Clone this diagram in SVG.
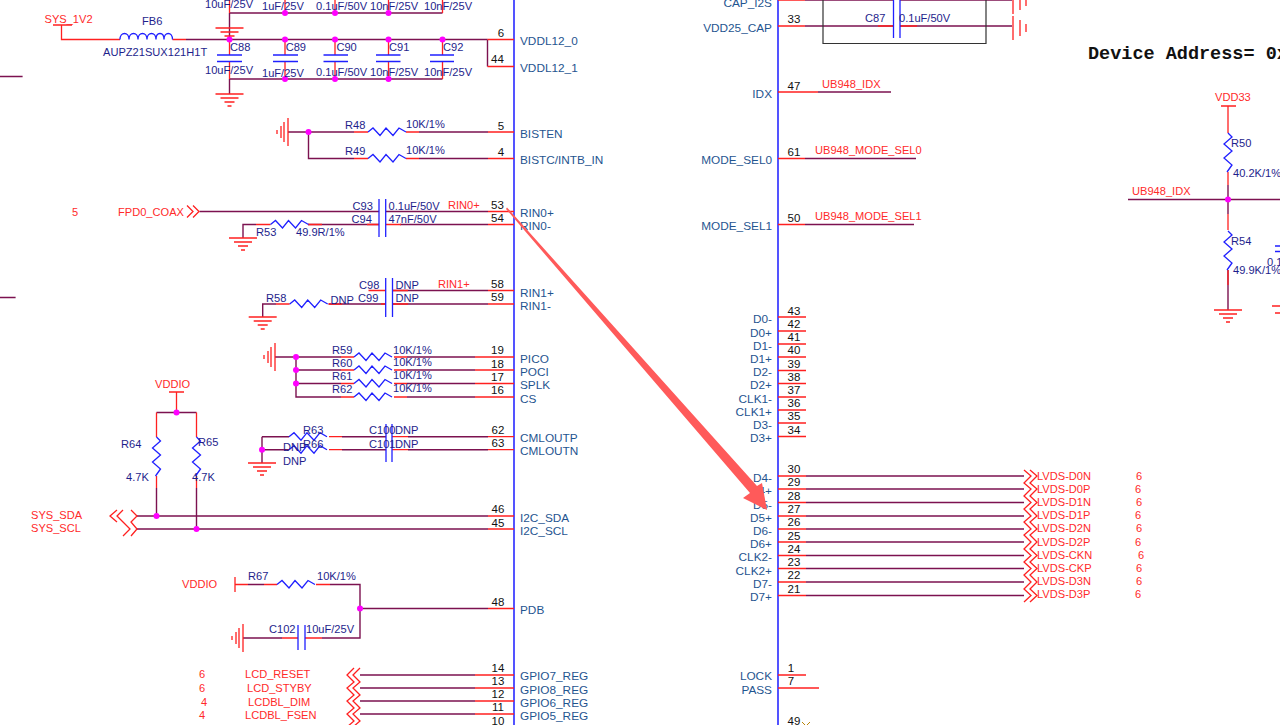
<svg xmlns="http://www.w3.org/2000/svg" width="1280" height="725" viewBox="0 0 1280 725">
<style>
text{font-family:"Liberation Sans",Arial,sans-serif;font-size:11.1px}
.c{fill:#1e1e8c}.n{fill:#ff2a2a}.p{fill:#1f5590;font-size:11.8px}.k{fill:#111;font-size:11.5px;text-anchor:middle}
.e{text-anchor:end}
.w{stroke:#7c1250;stroke-width:1.4;fill:none}
.r{stroke:#ff2020;stroke-width:1.3;fill:none}
.b{stroke:#2020ff;stroke-width:1.3;fill:none}
.bus{stroke:#2a2aff;stroke-width:1.6;fill:none}
.d{fill:#ff00ff}
</style>
<defs>
<path id="rh" class="b" d="M0 0L5-4 12 3.5 18-4 25 3.5 31-4 38 0"/>
<path id="rv" class="b" d="M0 0L4 4-4 11 4 18-4 25 4 32-1 39"/>
<g id="gd" class="r"><path d="M-14 0H14M-9 4H9M-5 8H5M-2 12H2"/></g>
<g id="gl" class="r"><path d="M0-14V14M-4-10V10M-7-6V6M-11-2V2"/></g>
<path id="chr" class="r" d="M0-6L6 0 0 6M6-6L12 0 6 6"/>
<circle id="dot" class="d" r="3"/>
</defs>
<g id="connectors">
<path class="bus" d="M514 0V725M778 0V725"/>
<!-- VDDL -->
<path class="r" d="M53 25H72M61.500 25V39.500H120M172.500 39.500H186"/>
<path class="w" d="M186 39.500H487.500M487.500 39.500V66.500M229.500 13H442.500M229.500 79H442.500M229.500 79V94M229.500 13V39.500"/>
<path class="r" d="M487.500 39.500H514M487.500 66.500H514"/>
<path class="b" d="M120 39.500c0-8 9-8 9 0c0-8 9-8 9 0c0-8 9-8 9 0c0-8 9-8 9 0c0-8 8-8 8 0c0-8 8.500-8 8.500 0"/>
<path class="r" d="M229.500 39.500V55M285 39.500V55M335 39.500V55M388.500 39.500V55M442.500 39.500V55M229.500 62V79M285 62V79M335 62V79M388.500 62V79M442.500 62V79M229.500 0V13M285 0V13M335 0V13M388.500 0V13M442.500 0V13"/>
<path class="b" d="M217 55H242M217 61.500H242M273 55H298M273 61.500H298M323.500 55H348M323.500 61.500H348M376 55H400.500M376 61.500H400.500M430 55H454M430 61.500H454"/>
<!-- BIST -->
<path class="w" d="M288 132H354M308.500 132V158.500H354M419 132H488M419 158.500H488"/>
<path class="r" d="M354 132H368M354 158.500H368M406 132H419M406 158.500H419M488 132H514M488 158.500H514"/>
<use href="#rh" x="368" y="132"/><use href="#rh" x="368" y="158.500"/>
<!-- RIN0 -->
<path class="w" d="M199.500 211.500H379M386 211.500H488M243 238V224.500H256M308 224.500H379M400 224.500H488"/>
<path class="r" d="M256 224.500H270.500M308 224.500H322M367 224.500H379M386 224.500H401M488 211.500H514M488 224.500H514"/>
<use href="#rh" x="270.500" y="224.500"/>
<path class="b" d="M379 199V237M385.700 199V237"/>
<!-- RIN1 -->
<path class="w" d="M262.700 317V304H276M328.600 304H386M392.500 304H488M392.500 290.500H488"/>
<path class="r" d="M276 304H289.700M328.600 304H342M368.500 290.500H386M381 304H386M392.500 290.500H408M392.500 304H408M488 290.500H514M488 304H514"/>
<use href="#rh" x="289.700" y="304"/>
<path class="b" d="M385.700 278V317M392.500 278V317"/>
<!-- SPI -->
<path class="w" d="M275 357H341M296 357V397H341M296 370H341M296 383.500H341M407 357H475M407 370H475M407 383.500H475M407 397H475"/>
<path class="r" d="M341 357H354M341 370H354M341 383.500H354M341 397H354M394 357H407M394 370H407M394 383.500H407M394 397H407M475 357H514M475 370H514M475 383.500H514M475 397H514"/>
<use href="#rh" x="354" y="357"/><use href="#rh" x="354" y="370"/><use href="#rh" x="354" y="383.500"/><use href="#rh" x="354" y="397"/>
<!-- CML -->
<path class="w" d="M262 436.700H289M262 449.700H289M262 436.700V463M342 436.700H386M342 449.700H386M408 436.700H488M408 449.700H488"/>
<path class="r" d="M329 436.700H342M329 449.700H342M392 436.700H408M392 449.700H408M488 436.700H514M488 449.700H514"/>
<use href="#rh" x="289" y="436.700"/><use href="#rh" x="289" y="449.700"/>
<path class="b" d="M386 424V462M392 424V462"/>
<!-- I2C -->
<path class="w" d="M156.500 412.500H196.500M137 516H488M137 529H488M156.500 488V516M196.500 488V529"/>
<path class="r" d="M176.500 392V412.500M169 392H184M156.500 412.500V437M196.500 412.500V437M156.500 476V488M196.500 476V488M488 516H514M488 529H514"/>
<use href="#rv" x="156.500" y="437"/><use href="#rv" x="196.500" y="437"/>
<path class="r" d="M117 510L110 516 117 522M123 510L117 516 123 522 130 529 123 536M131 510L137 516 131 522 137 529 131 536"/>
<!-- PDB -->
<path class="r" d="M235 577V592M235 584.500H248M264 584.500H277M316 584.500H330M282 638H298M305 638H322M488 608.500H514"/>
<path class="w" d="M248 584.500H264M330 584.500H360V638H322M360 608.500H488M243 638H282"/>
<use href="#rh" x="277" y="584.500"/>
<path class="b" d="M298 625V650M305 625V650"/>
<!-- GPIO -->
<path class="w" d="M360 675H475M360 688H475M360 701H475M360 714H475"/>
<path class="r" d="M475 675H514M475 688H514M475 701H514M475 714H514"/>
<path class="r" d="M360 668L353 675 360 682 353 688 360 695 353 701 360 708 353 714 360 721 353 727M354 668L347 675 354 682 347 688 354 695 347 701 354 708 347 714 354 721 347 727"/>
<!-- right pins -->
<path class="w" d="M805 0H893M900 0H1012M805 26H893M900 26H1012M818 92H891M805 158.500H916M805 224.500H914M1128 199.500H1280M0 76.500H22.600M0 297.500H15.600"/>
<path class="r" d="M778 0H805M778 26H805M778 92H818M778 158.500H805M778 224.500H805M878 26H893M900 26H917"/>
<path class="b" d="M893.500 0V38M900 0V38"/>
<path d="M823 0V43.500H986V0" fill="none" stroke="#333" stroke-width="1.2"/>
<path class="r" d="M1013 16V40M1020 20V36M1026 24V32M1013-10V14M1020-6V10M1026-2V6"/>
<path class="r" d="M778 317H806M778 331H806M778 344H806M778 357H806M778 370.500H806M778 383.500H806M778 397H806M778 410H806M778 423H806M778 436.500H806M778 675H806M778 688H819"/>
<path class="w" d="M806 476H1024M806 489H1024M806 502.500H1024M806 516H1024M806 529H1024M806 542H1024M806 555.500H1024M806 568.500H1024M806 582H1024M806 595.500H1024"/>
<path class="r" d="M778 476H806M778 489H806M778 502.500H806M778 516H806M778 529H806M778 542H806M778 555.500H806M778 568.500H806M778 582H806M778 595.500H806"/>
<path class="r" d="M1024 470L1031 476 1024 483 1031 489 1024 496 1031 502.500 1024 509 1031 516 1024 522 1031 529 1024 535 1031 542 1024 549 1031 555.500 1024 562 1031 568.500 1024 575 1031 582 1024 589 1031 595.500 1024 602M1030 470L1037 476 1030 483 1037 489 1030 496 1037 502.500 1030 509 1037 516 1030 522 1037 529 1030 535 1037 542 1030 549 1037 555.500 1030 562 1037 568.500 1030 575 1037 582 1030 589 1037 595.500 1030 602"/>
<!-- idx divider -->
<path class="r" d="M1221 106H1236M1228 106V133M1228 172V185M1228 214V230"/>
<path class="w" d="M1228 185V214M1228 270V310"/>
<path class="r" d="M1228 270V285"/>
<use href="#rv" x="1228" y="133"/><use href="#rv" x="1228" y="231"/>
<path class="b" d="M1275 246H1280M1275 251.500H1280"/>
<path class="r" d="M1272 306H1280M1275 313H1280"/>
<use href="#chr" x="187" y="211.500"/>
<path d="M802 722L805 725M810 722L807 725" stroke="#b8860b" fill="none"/>
</g>
<g id="grounds">
<use href="#gd" x="229.500" y="28"/><use href="#gd" x="229.500" y="94"/><use href="#gl" x="288" y="132"/>
<use href="#gd" x="243" y="238"/><use href="#gd" x="262.700" y="317"/><use href="#gl" x="275" y="357"/>
<use href="#gd" x="262" y="463"/><use href="#gl" x="243" y="638"/><use href="#gd" x="1228" y="310"/>
</g>
<g id="junctions">
<use href="#dot" x="229.500" y="39.500"/><use href="#dot" x="285" y="39.500"/><use href="#dot" x="335" y="39.500"/><use href="#dot" x="388.500" y="39.500"/><use href="#dot" x="442.500" y="39.500"/>
<use href="#dot" x="285" y="13"/><use href="#dot" x="335" y="13"/><use href="#dot" x="388.500" y="13"/>
<use href="#dot" x="285" y="79"/><use href="#dot" x="335" y="79"/><use href="#dot" x="388.500" y="79"/>
<use href="#dot" x="308.500" y="132"/><use href="#dot" x="296" y="357"/><use href="#dot" x="296" y="370"/><use href="#dot" x="296" y="383.500"/>
<use href="#dot" x="262" y="449.700"/><use href="#dot" x="176.500" y="412.500"/><use href="#dot" x="156.500" y="516"/><use href="#dot" x="196.500" y="529"/>
<use href="#dot" x="360" y="608.500"/><use href="#dot" x="1228" y="199.500"/>
</g>
<g id="left-labels">
<text class="n" x="44.500" y="23">SYS_1V2</text><text class="c" x="142" y="25">FB6</text><text class="c" x="103" y="56">AUPZ21SUX121H1T</text>
<text class="c" x="230" y="51">C88</text><text class="c" x="285.700" y="51">C89</text><text class="c" x="336.400" y="51">C90</text><text class="c" x="389" y="51">C91</text><text class="c" x="443" y="51">C92</text>
<text class="c" x="205" y="74">10uF/25V</text><text class="c" x="262" y="77">1uF/25V</text><text class="c" x="316" y="76">0.1uF/50V</text><text class="c" x="370" y="76">10nF/25V</text><text class="c" x="424" y="76">10nF/25V</text>
<text class="c" x="205" y="8">10uF/25V</text><text class="c" x="262" y="10">1uF/25V</text><text class="c" x="316" y="10">0.1uF/50V</text><text class="c" x="370" y="10">10nF/25V</text><text class="c" x="424" y="10">10nF/25V</text>
<text class="c" x="345" y="129">R48</text><text class="c" x="406" y="128">10K/1%</text><text class="c" x="345" y="155">R49</text><text class="c" x="406" y="154">10K/1%</text>
<text class="n" x="72" y="216">5</text><text class="n" x="118" y="216">FPD0_COAX</text>
<text class="c" x="352.600" y="210">C93</text><text class="c" x="351.600" y="223">C94</text><text class="c" x="388.500" y="210">0.1uF/50V</text><text class="c" x="388.500" y="223">47nF/50V</text><text class="n" x="448" y="209">RIN0+</text>
<text class="c" x="256" y="236">R53</text><text class="c" x="296" y="236">49.9R/1%</text>
<text class="c" x="359" y="289">C98</text><text class="c" x="358" y="302">C99</text><text class="c" x="395.500" y="289">DNP</text><text class="c" x="395.500" y="302">DNP</text><text class="n" x="438" y="288">RIN1+</text>
<text class="c" x="266" y="302">R58</text><text class="c" x="330.600" y="304">DNP</text>
<text class="c" x="332" y="354">R59</text><text class="c" x="393" y="354">10K/1%</text><text class="c" x="332" y="367">R60</text><text class="c" x="393" y="366">10K/1%</text><text class="c" x="332" y="380">R61</text><text class="c" x="393" y="379">10K/1%</text><text class="c" x="332" y="393">R62</text><text class="c" x="393" y="392">10K/1%</text>
<text class="c" x="303" y="434">R63</text><text class="c" x="303" y="448">R66</text><text class="c" x="369" y="434">C100</text><text class="c" x="395" y="434">DNP</text><text class="c" x="369" y="448">C101</text><text class="c" x="395" y="448">DNP</text><text class="c" x="283" y="451">DNP</text><text class="c" x="283" y="465">DNP</text>
<text class="n" x="155" y="388">VDDIO</text><text class="c" x="121" y="448">R64</text><text class="c" x="198" y="446">R65</text><text class="c" x="126" y="481">4.7K</text><text class="c" x="192" y="481">4.7K</text>
<text class="n" x="31" y="519">SYS_SDA</text><text class="n" x="31" y="532">SYS_SCL</text>
<text class="n" x="182" y="588">VDDIO</text><text class="c" x="248" y="580">R67</text><text class="c" x="317" y="580">10K/1%</text><text class="c" x="269" y="633">C102</text><text class="c" x="306" y="633">10uF/25V</text>
<text class="n" x="199" y="678">6</text><text class="n" x="245" y="678">LCD_RESET</text><text class="n" x="199" y="692">6</text><text class="n" x="247" y="692">LCD_STYBY</text><text class="n" x="201" y="706">4</text><text class="n" x="248" y="706">LCDBL_DIM</text><text class="n" x="199" y="719">4</text><text class="n" x="245" y="719">LCDBL_FSEN</text><text class="n" x="199" y="733">4</text><text class="n" x="247" y="733">LCDBL_EN</text>
</g>
<g id="u-left-pins">
<text class="k" x="501" y="37">6</text><text class="k" x="497.500" y="63">44</text><text class="k" x="501" y="130">5</text><text class="k" x="501" y="156">4</text><text class="k" x="497.500" y="209">53</text><text class="k" x="497.500" y="222">54</text><text class="k" x="497.500" y="288">58</text><text class="k" x="497.500" y="301">59</text><text class="k" x="497.500" y="354">19</text><text class="k" x="497.500" y="368">18</text><text class="k" x="497.500" y="381">17</text><text class="k" x="497.500" y="394">16</text><text class="k" x="498" y="434">62</text><text class="k" x="498" y="447">63</text><text class="k" x="498" y="513">46</text><text class="k" x="498" y="527">45</text><text class="k" x="498" y="606">48</text><text class="k" x="498" y="672">14</text><text class="k" x="498" y="685">13</text><text class="k" x="498" y="698">12</text><text class="k" x="498" y="711">11</text><text class="k" x="498" y="725">10</text>
<text class="p" x="520" y="45">VDDL12_0</text><text class="p" x="520" y="72">VDDL12_1</text><text class="p" x="520" y="138">BISTEN</text><text class="p" x="520" y="164">BISTC/INTB_IN</text><text class="p" x="520" y="217">RIN0+</text><text class="p" x="520" y="230">RIN0-</text><text class="p" x="520" y="297">RIN1+</text><text class="p" x="520" y="310">RIN1-</text><text class="p" x="520" y="363">PICO</text><text class="p" x="520" y="376">POCI</text><text class="p" x="520" y="389">SPLK</text><text class="p" x="520" y="403">CS</text><text class="p" x="520" y="442">CMLOUTP</text><text class="p" x="520" y="455">CMLOUTN</text><text class="p" x="520" y="522">I2C_SDA</text><text class="p" x="520" y="535">I2C_SCL</text><text class="p" x="520" y="614">PDB</text><text class="p" x="520" y="680">GPIO7_REG</text><text class="p" x="520" y="694">GPIO8_REG</text><text class="p" x="520" y="707">GPIO6_REG</text><text class="p" x="520" y="720">GPIO5_REG</text>
</g>
<g id="u-right-pins">
<text class="p e" x="772" y="7">CAP_I2S</text><text class="p e" x="772" y="32">VDD25_CAP</text><text class="p e" x="772" y="98">IDX</text><text class="p e" x="772" y="164">MODE_SEL0</text><text class="p e" x="772" y="230">MODE_SEL1</text>
<text class="p e" x="772" y="323">D0-</text><text class="p e" x="772" y="337">D0+</text><text class="p e" x="772" y="350">D1-</text><text class="p e" x="772" y="363">D1+</text><text class="p e" x="772" y="376">D2-</text><text class="p e" x="772" y="389">D2+</text><text class="p e" x="772" y="403">CLK1-</text><text class="p e" x="772" y="416">CLK1+</text><text class="p e" x="772" y="429">D3-</text><text class="p e" x="772" y="442">D3+</text>
<text class="p e" x="772" y="482">D4-</text><text class="p e" x="772" y="495">D4+</text><text class="p e" x="772" y="509">D5-</text><text class="p e" x="772" y="522">D5+</text><text class="p e" x="772" y="535">D6-</text><text class="p e" x="772" y="548">D6+</text><text class="p e" x="772" y="561">CLK2-</text><text class="p e" x="772" y="575">CLK2+</text><text class="p e" x="772" y="588">D7-</text><text class="p e" x="772" y="601">D7+</text><text class="p e" x="772" y="680">LOCK</text><text class="p e" x="772" y="694">PASS</text>
<text class="k" x="794" y="23">33</text><text class="k" x="794" y="90">47</text><text class="k" x="794" y="156">61</text><text class="k" x="794" y="222">50</text>
<text class="k" x="794" y="315">43</text><text class="k" x="794" y="328">42</text><text class="k" x="794" y="341">41</text><text class="k" x="794" y="354">40</text><text class="k" x="794" y="368">39</text><text class="k" x="794" y="381">38</text><text class="k" x="794" y="394">37</text><text class="k" x="794" y="407">36</text><text class="k" x="794" y="420">35</text><text class="k" x="794" y="434">34</text>
<text class="k" x="794" y="473">30</text><text class="k" x="794" y="486">29</text><text class="k" x="794" y="500">28</text><text class="k" x="794" y="513">27</text><text class="k" x="794" y="526">26</text><text class="k" x="794" y="540">25</text><text class="k" x="794" y="553">24</text><text class="k" x="794" y="566">23</text><text class="k" x="794" y="579">22</text><text class="k" x="794" y="593">21</text><text class="k" x="791" y="672">1</text><text class="k" x="791" y="685">7</text><text class="k" x="794" y="725">49</text>
<text class="c" x="865" y="22">C87</text><text class="c" x="899" y="22">0.1uF/50V</text>
<text class="n" x="822" y="88">UB948_IDX</text><text class="n" x="815" y="154">UB948_MODE_SEL0</text><text class="n" x="815" y="220">UB948_MODE_SEL1</text>
<text class="n" x="1037" y="480">LVDS-D0N</text><text class="n" x="1037" y="493">LVDS-D0P</text><text class="n" x="1037" y="506">LVDS-D1N</text><text class="n" x="1037" y="519">LVDS-D1P</text><text class="n" x="1037" y="532">LVDS-D2N</text><text class="n" x="1037" y="546">LVDS-D2P</text><text class="n" x="1037" y="559">LVDS-CKN</text><text class="n" x="1037" y="572">LVDS-CKP</text><text class="n" x="1037" y="585">LVDS-D3N</text><text class="n" x="1037" y="598">LVDS-D3P</text>
<text class="n" x="1136" y="480">6</text><text class="n" x="1135" y="493">6</text><text class="n" x="1136" y="506">6</text><text class="n" x="1135" y="519">6</text><text class="n" x="1136" y="532">6</text><text class="n" x="1135" y="546">6</text><text class="n" x="1138" y="559">6</text><text class="n" x="1136" y="572">6</text><text class="n" x="1136" y="585">6</text><text class="n" x="1135" y="598">6</text>
</g>
<g id="address-divider">
<text x="1088" y="59" style="font-family:'Liberation Mono',monospace;font-weight:bold;font-size:18.500px;fill:#111">Device Address= 0x</text>
<text class="n" x="1215" y="101">VDD33</text><text class="c" x="1231" y="147">R50</text><text class="c" x="1233" y="177">40.2K/1%</text><text class="n" x="1132" y="195">UB948_IDX</text><text class="c" x="1231" y="245">R54</text><text class="c" x="1233" y="274">49.9K/1%</text><text class="c" x="1267" y="266">0.1</text>
</g>
<polygon id="annotation-arrow" fill="#ff5a5a" points="507,207.500 757,486 762,483 767,510 743,498 750,493 506,209"/>
</svg>
